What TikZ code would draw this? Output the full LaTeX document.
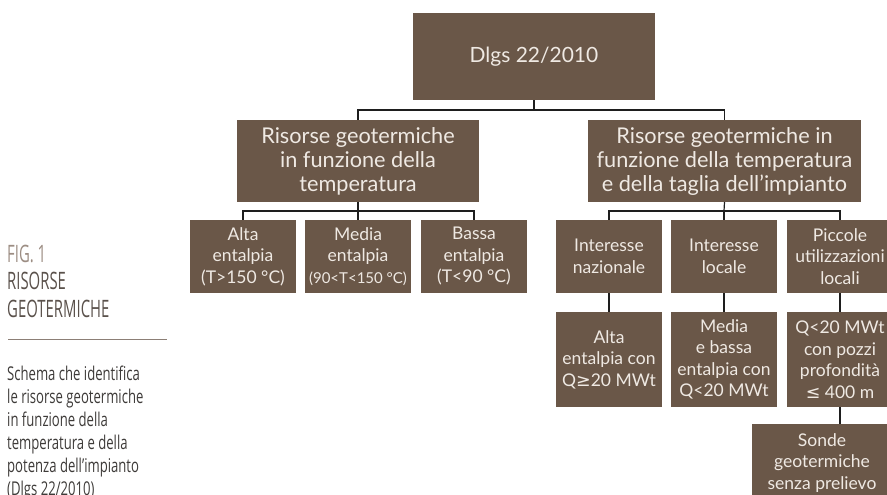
\documentclass[tikz,border=0pt]{standalone}
\usepackage{fontspec}
\setmainfont{Lato}
\newfontfamily\condfont[FakeStretch=0.69]{Open Sans}
\newfontfamily\titlefont[FakeStretch=0.62]{Open Sans}
\newfontfamily\symfont{DejaVu Sans}
\definecolor{boxbrown}{HTML}{6A5748}
\definecolor{boxtext}{HTML}{EFE9E3}
\definecolor{figgray}{HTML}{9C8D83}
\definecolor{titlegray}{HTML}{5A514B}
\definecolor{rulegray}{HTML}{8C7F76}
\definecolor{bodygray}{HTML}{3E3B39}
\definecolor{linecol}{HTML}{1E1E1E}
\begin{document}
\begin{tikzpicture}[x=1pt,y=-1pt,
  brownbox/.style={fill=boxbrown,text=boxtext,inner sep=0pt,align=center,anchor=center},
  lvtwo/.style={brownbox,font=\fontsize{21.7}{24}\selectfont,minimum height=82pt},
  lvthree/.style={brownbox,font=\fontsize{17.5}{21.5}\selectfont,minimum width=106pt},
  conn/.style={draw=linecol,line width=1.2pt}]
\useasboundingbox (0,0) rectangle (887,495);
% left caption
\node[anchor=base west,inner sep=0pt,text=figgray,font=\titlefont\fontsize{24}{24}\selectfont] (fig) at (7,262) {FIG. 1};
\node[anchor=base west,inner sep=0pt,text=titlegray,font=\titlefont\fontsize{24}{24}\selectfont] (t1) at (7,289) {RISORSE};
\node[anchor=base west,inner sep=0pt,text=titlegray,font=\titlefont\fontsize{24}{24}\selectfont] (t2) at (7,317) {GEOTERMICHE};
\draw[rulegray,line width=1pt] (8,339) -- (167,339);
\node[anchor=north west,inner sep=0pt,text=bodygray,align=left,font=\condfont\fontsize{19}{23}\selectfont] (body) at (7,366)
 {Schema che identifica\\le risorse geotermiche\\in funzione della\\temperatura e della\\potenza dell’impianto\\(Dlgs 22/2010)};
% boxes
\node[brownbox,font=\fontsize{21}{24}\selectfont,minimum width=242pt,minimum height=87pt] (top) at (534,56.5) {Dlgs 22/2010};
\node[lvtwo,minimum width=242pt] (l2l) at (358,161) {Risorse geotermiche\\in funzione della\\temperatura};
\node[lvtwo,minimum width=273pt] (l2r) at (724.5,161) {Risorse geotermiche in\\funzione della temperatura\\e della taglia dell’impianto};
\node[lvthree,minimum height=73pt] (a1) at (243,256.5) {Alta\\entalpia\\(T>150 °C)};
\node[lvthree,minimum height=73pt] (a2) at (358,256.5) {Media\\entalpia\\{\fontsize{15}{21.5}\selectfont(90<T<150 °C)}};
\node[lvthree,minimum height=73pt] (a3) at (474,256.5) {Bassa\\entalpia\\(T<90 °C)};
\node[lvthree,minimum height=73pt] (r1) at (609,256.5) {Interesse\\nazionale};
\node[lvthree,minimum height=73pt] (r2) at (724,256.5) {Interesse\\locale};
\node[lvthree,minimum height=73pt] (r3) at (840,256.5) {Piccole\\utilizzazioni\\locali};
\node[lvthree,minimum height=95pt] (b1) at (609,359.5) {Alta\\entalpia con\\Q{\symfont ≥}20 MWt};
\node[lvthree,minimum height=95pt] (b2) at (724,359.5) {Media\\e bassa\\entalpia con\\Q<20 MWt};
\node[lvthree,minimum height=95pt] (b3) at (840,359.5) {Q<20 MWt\\con pozzi\\profondità\\{\symfont ≤} 400 m};
\node[lvthree,minimum width=140pt,minimum height=78pt] (c3) at (822,463) {Sonde\\geotermiche\\senza prelievo};
% connectors
\coordinate (j0) at (534,110);
\coordinate (jl) at (358,211);
\coordinate (jr) at (724,211);
\draw[conn] (top.south) -- (j0);
\draw[conn] (j0) -| (l2l.north);
\draw[conn] (j0) -| (l2r.north);
\draw[conn] (l2l.south) -- (jl);
\draw[conn] (jl) -| (a1.north);
\draw[conn] (jl) -- (a2.north);
\draw[conn] (jl) -| (a3.north);
\draw[conn] (l2r.south) -- (jr);
\draw[conn] (jr) -| (r1.north);
\draw[conn] (jr) -- (r2.north);
\draw[conn] (jr) -| (r3.north);
\draw[conn] (r1.south) -- (b1.north);
\draw[conn] (r2.south) -- (b2.north);
\draw[conn] (r3.south) -- (b3.north);
\draw[conn] (b3.south) -- (b3.south |- c3.north);
\end{tikzpicture}
\end{document}
